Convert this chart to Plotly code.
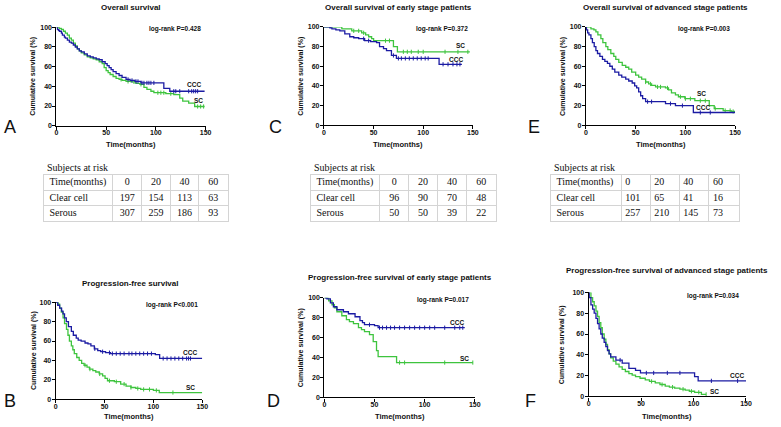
import plotly.graph_objects as go

W, H = 781, 427

# ---------------- data ----------------
# Panel A: overall survival
A_ccc_t = [0, 1, 2, 3, 5, 6, 8, 9, 11, 13, 15, 17, 19, 21, 23, 25, 28, 31, 34, 37, 40, 43, 46, 49, 51, 53, 55, 57, 60, 63, 66, 70, 74, 79, 85, 108, 114, 149]
A_ccc_s = [100, 98, 97, 96, 94, 92, 90, 89, 87, 85, 84, 82, 80, 78, 76, 75, 73, 71, 70, 69, 68, 67, 65, 63, 61, 59, 57, 55, 53, 51, 49, 47, 46, 45, 43.5, 38, 35, 35]
A_ccc_c = [72, 76, 80, 82, 86, 88, 91, 93, 95, 98, 118, 120, 124, 133, 136, 138, 140, 142]
A_sc_t = [0, 3, 5, 7, 9, 11, 13, 15, 17, 19, 21, 23, 25, 28, 31, 34, 37, 40, 43, 46, 48, 50, 52, 54, 57, 60, 63, 66, 70, 75, 80, 84, 88, 91, 95, 98, 110, 118, 124, 127, 133, 139, 149]
A_sc_s = [100, 99, 98, 96, 94, 92, 89, 87, 84, 81, 78, 76, 74, 72, 70, 69, 68, 67, 65, 63, 59, 56, 54, 52, 50, 48, 47, 46, 45, 44.5, 43, 42, 39, 37, 35, 33.5, 32.5, 31.5, 28, 25, 23, 19.5, 19.5]
A_sc_c = [65, 72, 78, 85, 102, 105, 108, 115, 142, 145, 148]

# Panel C: overall survival, early stage
C_ccc_t = [0, 6, 8, 12, 16, 21, 26, 30, 35, 41, 47, 53, 56, 60, 63, 68, 73, 116, 139]
C_ccc_s = [100, 99, 98, 97, 96, 93, 90, 89, 88, 86, 85, 84, 80, 78, 76, 71, 68, 62, 62]
C_ccc_c = [40, 45, 70, 75, 78, 82, 86, 90, 94, 98, 102, 105, 120, 125, 130, 134, 137]
C_sc_t = [0, 18, 28, 38, 42, 45, 48, 50, 70, 74, 147]
C_sc_s = [100, 98, 96, 94, 92, 90, 88, 86, 80, 74.7, 74.7]
C_sc_c = [30, 35, 40, 62, 66, 80, 84, 88, 95, 100, 122, 135, 145]

# Panel E: overall survival, advanced stage
E_ccc_t = [0, 0.5, 1.7, 3, 5, 6.5, 8.3, 10, 11.6, 14, 16.6, 19, 21.6, 24, 26.5, 29, 33, 36, 40, 43, 46.5, 49, 51, 53, 55, 57, 60, 80, 90, 108, 150]
E_ccc_s = [100, 97, 94, 92, 88, 84, 80, 76, 73, 70, 67, 65, 63, 60, 57, 54, 51, 49, 47, 45, 43, 40, 38, 34, 30, 27, 24, 22, 20, 13, 13]
E_ccc_c = [62, 66, 85, 97, 115, 125]
E_sc_t = [0, 5, 8, 10, 12, 15, 17, 20, 22, 25, 28, 30, 33, 36.5, 40, 43, 46, 50, 53, 56, 60, 63, 66, 70, 80, 83, 86, 90, 93, 99.5, 109.5, 124, 129, 138, 146, 150]
E_sc_s = [100, 98, 97, 95, 92, 88, 84, 80, 77, 73, 70, 67, 64, 61, 59, 57, 54, 51, 49, 47, 44, 42, 40.5, 39, 38, 36, 33, 31, 29, 27, 25, 20, 17, 15, 14, 14]
E_sc_c = [60, 65, 72, 75, 82, 95, 100, 105, 115, 120, 130, 140, 145, 148]

# Panel B: progression-free survival
B_ccc_t = [0, 2, 4, 6, 7.4, 9, 10.8, 13, 16, 18, 21, 23, 26, 30, 33, 36, 39.5, 43, 46, 51, 56, 102, 106.4, 150]
B_ccc_s = [100, 97, 94, 91, 88, 84, 80, 75, 70, 66, 63, 61, 60, 58, 57, 55, 52, 50, 49, 48, 47, 46, 42, 42]
B_ccc_c = [40, 48, 55, 58, 62, 66, 70, 75, 78, 82, 86, 90, 94, 98, 110, 114, 118, 122, 126, 130, 134, 136, 138]
B_sc_t = [0, 2.4, 4, 5.7, 7.5, 9, 11, 12.5, 14, 16, 17.5, 19, 21.5, 24, 26.5, 29, 32, 34.5, 38, 41, 44.5, 48, 50.5, 53, 60, 66.5, 72, 77, 82, 87, 100, 106, 150]
B_sc_s = [100, 98, 94, 90, 84, 78, 72, 66, 60, 55, 51, 47, 43, 40, 37, 35, 33, 31, 29.5, 28, 26, 24, 21.5, 19, 18, 15.5, 13.5, 12, 11, 10, 9, 6.8, 6.8]
B_sc_c = [30, 35, 45, 55, 62, 70, 77, 84, 90, 96, 103, 120]

# Panel D: progression-free survival, early stage
D_ccc_t = [0, 2.6, 6, 9, 12.5, 19, 24, 30.6, 35.5, 38, 40, 50, 53.6, 140]
D_ccc_s = [100, 99, 95, 91, 88, 86, 84, 81, 77, 75, 73, 72, 70, 70]
D_ccc_c = [45, 55, 58, 62, 66, 70, 75, 80, 85, 90, 95, 100, 105, 110, 120, 130, 135, 138]
D_sc_t = [0, 4.3, 7.6, 10, 12.5, 17.4, 22, 25, 29, 34, 37, 40, 45, 48.7, 52, 53.6, 72, 148]
D_sc_s = [100, 97, 93, 90, 86, 82, 78, 76, 74, 70, 68, 66, 63, 56, 47, 41, 35, 35]
D_sc_c = [75, 80, 120, 148]

# Panel F: progression-free survival, advanced stage
F_ccc_t = [0, 0.6, 2.2, 3.8, 5.3, 7, 8.5, 10, 11.6, 13, 14.8, 16.4, 18, 19.5, 21, 26, 32, 38.4, 44.7, 49.4, 101, 104.4, 150]
F_ccc_s = [100, 95, 88, 84, 80, 75, 70, 65, 60, 56, 52, 48, 44, 41, 38, 35, 32, 27, 25, 22.6, 19, 15, 15]
F_ccc_c = [30, 55, 62, 75, 87, 117, 142]
F_sc_t = [0, 2.2, 3.8, 5.3, 7, 8.5, 10, 11.6, 13, 14.8, 16.4, 18, 19.5, 21, 23.5, 26, 29, 32, 35, 38.4, 41.5, 44.7, 49, 54, 58, 63.5, 68, 73, 77, 82, 87, 92, 96, 101, 107.5, 112]
F_sc_s = [100, 95, 91, 87, 82, 77, 71, 66, 60, 55, 50, 45, 41, 37, 34, 31, 28.5, 26, 24, 22, 20.5, 19, 17.5, 16, 14.5, 13, 11.5, 10, 9, 8, 7, 6, 5, 4, 2, 2]
F_sc_c = [60, 70, 80, 90, 98, 105, 112]

titles = ["Overall survival", "Overall survival of early stage patients",
          "Overall survival of advanced stage patients", "Progression-free survival",
          "Progression-free survival of early stage patients",
          "Progression-free survival of advanced stage patients"]
pvalues = ["log-rank P=0.428", "log-rank P=0.372", "log-rank P=0.003",
           "log-rank P<0.001", "log-rank P=0.017", "log-rank P=0.034"]
letters = ["A", "C", "E", "B", "D", "F"]

# Subjects-at-risk tables
risk_header = ["Time(months)", "0", "20", "40", "60"]
risk_rows = ["Clear cell", "Serous"]
A_clear = [197, 154, 113, 63]
A_serous = [307, 259, 186, 93]
C_clear = [96, 90, 70, 48]
C_serous = [50, 50, 39, 22]
E_clear = [101, 65, 41, 16]
E_serous = [257, 210, 145, 73]

# ---------------- layout / styling ----------------
BLUE = "#1b1ba3"
GREEN = "#3ec43e"
SANS = "Liberation Sans"
SERIF = "Liberation Serif"
GRID = "#d4d4d4"

def step_at(ts, ss, t):
    v = ss[0]
    for ti, si in zip(ts, ss):
        if ti <= t:
            v = si
    return v

# pixel boxes of plotting areas: (left, right, top, bottom)
boxes = [(55, 205.7, 23.7, 123.7), (325.3, 475.7, 23.3, 123.3), (590, 740.7, 23.3, 123.3),
         (54.3, 202.3, 303.3, 401.7), (325.7, 477.7, 298.7, 400), (592.7, 751.7, 293.2, 399)]
title_y = [4, 4, 4, 284.5, 278.5, 271.2]
title_x = [130.5, 400.5, 670, 129, 401.7, 671.7]
letter_xy = [(8.3, 125.5), (276.7, 125.5), (537.5, 125.5), (8, 404), (274, 403.5), (534, 403.5)]
ytitle_x = [31.7, 301.7, 566.7, 31.7, 301.7, 566.7]
xtitle_y = [143, 143, 143, 419, 419.3, 419]
p_pos = [(119, 98.7), (118.6, 98.3), (119.2, 98.3), (119, 97), (118.5, 97.7), (119, 96.7)]
lbl_ccc = [(138, 42), (133, 67), (118, 17.7), (137.5, 48.5), (132, 75.7), (141.5, 20)]
lbl_sc = [(143, 26), (138, 81), (116, 32.7), (137.5, 12.5), (140, 39.5), (120, 4.7)]

curves = [
    (A_ccc_t, A_ccc_s, A_ccc_c, A_sc_t, A_sc_s, A_sc_c),
    (C_ccc_t, C_ccc_s, C_ccc_c, C_sc_t, C_sc_s, C_sc_c),
    (E_ccc_t, E_ccc_s, E_ccc_c, E_sc_t, E_sc_s, E_sc_c),
    (B_ccc_t, B_ccc_s, B_ccc_c, B_sc_t, B_sc_s, B_sc_c),
    (D_ccc_t, D_ccc_s, D_ccc_c, D_sc_t, D_sc_s, D_sc_c),
    (F_ccc_t, F_ccc_s, F_ccc_c, F_sc_t, F_sc_s, F_sc_c),
]

fig = go.Figure()
layout = dict(width=W, height=H, margin=dict(l=0, r=0, t=0, b=0),
              paper_bgcolor="white", plot_bgcolor="white", showlegend=False)
annotations = []

def px(x):
    return x / W

def py(y):
    return 1 - y / H

def ax_name(n, kind):
    return kind if n == 1 else f"{kind}{n}"

tickfont = dict(family=SANS, size=7, color="#111", weight="bold")

for i, (box, cv) in enumerate(zip(boxes, curves)):
    n = i + 1
    xa, ya = ax_name(n, "x"), ax_name(n, "y")
    l, r, t, b = box
    layout[f"xaxis{'' if n == 1 else n}"] = dict(
        domain=[px(l), px(r)], anchor=ya, range=[0, 150], tickvals=[0, 50, 100, 150],
        showline=True, linecolor="black", linewidth=1.2, ticks="outside", ticklen=3,
        tickwidth=1, tickcolor="black", showgrid=False, zeroline=False, tickfont=tickfont,
        ticklabelstandoff=-3)
    layout[f"yaxis{'' if n == 1 else n}"] = dict(
        domain=[py(b), py(t)], anchor=xa, range=[0, 100], tickvals=[0, 20, 40, 60, 80, 100],
        showline=True, linecolor="black", linewidth=1.2, ticks="outside", ticklen=3,
        tickwidth=1, tickcolor="black", showgrid=False, zeroline=False, tickfont=tickfont,
        ticklabelstandoff=-1)
    ct, cs, cc, st, ss, sc = cv
    for (tt, s_, cens, col) in [(st, ss, sc, GREEN), (ct, cs, cc, BLUE)]:
        fig.add_trace(go.Scatter(x=tt, y=s_, mode="lines", line=dict(color=col, width=1.3, shape="hv"),
                                 xaxis=xa, yaxis=ya, cliponaxis=False, hoverinfo="skip"))
        fig.add_trace(go.Scatter(x=cens, y=[step_at(tt, s_, c) for c in cens], mode="markers",
                                 marker=dict(symbol="line-ns", size=3, line=dict(color=col, width=1)),
                                 xaxis=xa, yaxis=ya, cliponaxis=False, hoverinfo="skip"))
    annotations.append(dict(text=titles[i], x=px(title_x[i]), y=py(title_y[i]), xref="paper", yref="paper",
                            showarrow=False, xanchor="center", yanchor="middle",
                            font=dict(family=SANS, size=8, color="#111", weight="bold")))
    annotations.append(dict(text=pvalues[i], x=p_pos[i][0], y=p_pos[i][1], xref=xa, yref=ya,
                            showarrow=False, xanchor="center", yanchor="middle",
                            font=dict(family=SANS, size=6.5, color="#111", weight="bold")))
    annotations.append(dict(text="CCC", x=lbl_ccc[i][0], y=lbl_ccc[i][1], xref=xa, yref=ya,
                            showarrow=False, xanchor="center", yanchor="middle",
                            font=dict(family=SANS, size=6.5, color="#111", weight="bold")))
    annotations.append(dict(text="SC", x=lbl_sc[i][0], y=lbl_sc[i][1], xref=xa, yref=ya,
                            showarrow=False, xanchor="center", yanchor="middle",
                            font=dict(family=SANS, size=6.5, color="#111", weight="bold")))
    annotations.append(dict(text=letters[i], x=px(letter_xy[i][0]), y=py(letter_xy[i][1]),
                            xref="paper", yref="paper", showarrow=False, xanchor="center", yanchor="middle",
                            font=dict(family=SANS, size=18, color="#111")))
    annotations.append(dict(text="Cumulative survival (%)", x=px(ytitle_x[i]), y=py((t + b) / 2),
                            xref="paper", yref="paper", showarrow=False, textangle=-90,
                            xanchor="center", yanchor="middle",
                            font=dict(family=SANS, size=7, color="#111", weight="bold")))
    annotations.append(dict(text="Time(months)", x=px((l + r) / 2), y=py(xtitle_y[i]),
                            xref="paper", yref="paper", showarrow=False, xanchor="center", yanchor="middle",
                            font=dict(family=SANS, size=7.5, color="#111", weight="bold")))

# ---------------- subjects-at-risk tables (text on gridded axes) ----------------
tables = [
    (A_clear, A_serous, (42, 228), [70, 29, 29, 29, 29], "center"),
    (C_clear, C_serous, (311.7, 499.3), [70, 29, 29.3, 29.3, 30], "center"),
    (E_clear, E_serous, (554.3, 744.3), [71.4, 29.3, 29.3, 30, 30], "left"),
]
TOP, ROW_H, PAD = 174, 15.6, 6
for k, (clear, serous, (tl, tr), cw, al) in enumerate(tables):
    n = 7 + k
    xa, ya = ax_name(n, "x"), ax_name(n, "y")
    bounds = [0]
    for w in cw:
        bounds.append(bounds[-1] + w)
    layout[f"xaxis{n}"] = dict(domain=[px(tl), px(tr)], anchor=ya, range=[0, bounds[-1]],
                               tickvals=bounds[1:-1], showgrid=True, gridcolor=GRID, gridwidth=1,
                               showticklabels=False, ticks="", zeroline=False,
                               showline=True, mirror=True, linecolor=GRID, linewidth=1, fixedrange=True)
    layout[f"yaxis{n}"] = dict(domain=[py(TOP + 3 * ROW_H), py(TOP)], anchor=xa, range=[3, 0],
                               tickvals=[1, 2], showgrid=True, gridcolor=GRID, gridwidth=1,
                               showticklabels=False, ticks="", zeroline=False,
                               showline=True, mirror=True, linecolor=GRID, linewidth=1, fixedrange=True)
    rows = [risk_header, [risk_rows[0]] + [str(v) for v in clear], [risk_rows[1]] + [str(v) for v in serous]]
    xs, ys, txt, pos = [], [], [], []
    for ri, row in enumerate(rows):
        for ci, val in enumerate(row):
            ys.append(ri + 0.5)
            txt.append(val)
            if ci == 0 or al == "left":
                xs.append(bounds[ci] + (PAD if ci == 0 else 4))
                pos.append("middle right")
            else:
                xs.append((bounds[ci] + bounds[ci + 1]) / 2)
                pos.append("middle center")
    fig.add_trace(go.Scatter(x=xs, y=ys, text=txt, mode="text", textposition=pos,
                             textfont=dict(family=SERIF, size=10, color="#111"),
                             xaxis=xa, yaxis=ya, hoverinfo="skip", cliponaxis=False))
    annotations.append(dict(text="Subjects at risk", x=px(tl + 1.5), y=py(166), xref="paper", yref="paper",
                            showarrow=False, xanchor="left", yanchor="middle",
                            font=dict(family=SERIF, size=10, color="#111")))

layout["annotations"] = annotations
fig.update_layout(**layout)
fig.write_html("out.html", config={"displayModeBar": False},
               post_script="document.body.style.margin='0';document.body.style.padding='0';")
